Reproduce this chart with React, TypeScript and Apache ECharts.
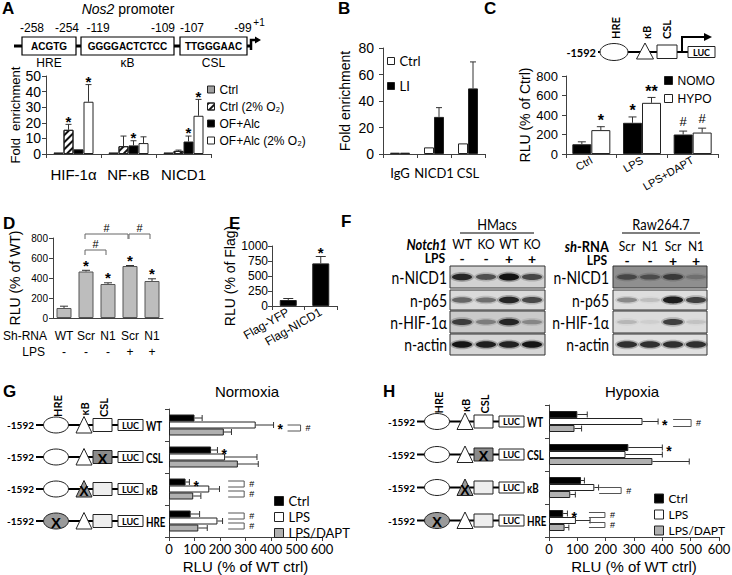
import React, { useEffect, useRef } from 'react';
import * as echarts from 'echarts';

const ARIAL = '"Liberation Sans", Arial, Helvetica, sans-serif';
const CAL = 'Lato, "Noto Sans", sans-serif';
const AX = '#404040';

// ---------- Panel A ----------
const aCategories = ['HIF-1α', 'NF-κB', 'NICD1'];
const aNames = ['Ctrl', 'Ctrl (2% O₂)', 'OF+Alc', 'OF+Alc (2% O₂)'];
const aCtrl = [1, 1, 1];
const aCtrlO2 = [15.5, 5, 2];
const aOFAlc = [3, 5.5, 8];
const aOFAlcO2 = [33.5, 7, 24.5];
const aCtrlErr = [0, 0, 0];
const aCtrlO2Err = [3.5, 6.5, 0.5];
const aOFAlcErr = [0, 3, 3.5];
const aOFAlcO2Err = [11, 4, 10.5];
const aCtrlStars = ['', '', ''];
const aCtrlO2Stars = ['*', '', ''];
const aOFAlcStars = ['', '*', '*'];
const aOFAlcO2Stars = ['*', '', '*'];
const aPromoterPos = ['-258', '-254', '-119', '-109', '-107', '-99'];
const aPromoterSeq = ['ACGTG', 'GGGGACTCTCC', 'TTGGGAAC'];
const aPromoterSites = ['HRE', 'κB', 'CSL'];

// ---------- Panel B ----------
const bCategories = ['IgG', 'NICD1', 'CSL'];
const bNames = ['Ctrl', 'LI'];
const bCtrl = [1, 5, 8];
const bLI = [1, 28, 49.5];
const bCtrlErr = [0, 0, 0];
const bLIErr = [0, 7, 20];

// ---------- Panel C ----------
const cCategories = ['Ctrl', 'LPS', 'LPS+DAPT'];
const cNames = ['NOMO', 'HYPO'];
const cNomo = [100, 320, 200];
const cHypo = [245, 525, 220];
const cNomoErr = [25, 60, 35];
const cHypoErr = [35, 55, 45];
const cNomoMarks = ['', '*', '#'];
const cHypoMarks = ['*', '**', '#'];

// ---------- Panel D ----------
const dShRna = ['WT', 'Scr', 'N1', 'Scr', 'N1'];
const dLps = ['-', '-', '-', '+', '+'];
const dValues = [100, 465, 340, 520, 370];
const dErr = [18, 12, 12, 5, 22];
const dStars = ['', '*', '*', '*', '*'];
// [from category, to category, level]
const dBrackets = [
  [1, 2, 680],
  [1, 3, 840],
  [3, 4, 840],
];

// ---------- Panel E ----------
const eCategories = ['Flag-YFP', 'Flag-NICD1'];
const eValues = [100, 710];
const eErr = [25, 115];
const eStars = ['', '*'];

// ---------- Panel F ----------
const fHMacsGenotype = ['WT', 'KO', 'WT', 'KO'];
const fLps = ['-', '-', '+', '+'];
const fRawShRna = ['Scr', 'N1', 'Scr', 'N1'];
const fBlotRows = ['n-NICD1', 'n-p65', 'n-HIF-1α', 'n-actin'];
const fHMacsBands = [
  [0.85, 0.6, 0.97, 0.65],
  [0.5, 0.45, 0.85, 0.65],
  [0.7, 0.35, 0.85, 0.3],
  [0.95, 0.9, 0.88, 0.95],
];
const fRawBands = [
  [0.5, 0.45, 0.6, 0.2],
  [0.35, 0.12, 0.9, 0.7],
  [0.15, 0.05, 0.7, 0.1],
  [0.8, 0.8, 0.8, 0.8],
];
const fHMacsBg = ['#d2d2d2', '#dadada', '#cacaca', '#d6d6d6'];
const fRawBg = ['#8f8f8f', '#dedede', '#dcdcdc', '#e0e0e0'];

// ---------- Panels G / H ----------
const ghConstructs = ['WT', 'CSL', 'κB', 'HRE'];
const ghNames = ['Ctrl', 'LPS', 'LPS/DAPT'];
const gCtrl = [100, 165, 65, 85];
const gLps = [340, 220, 158, 190];
const gDapt = [215, 270, 95, 115];
const gCtrlErr = [30, 25, 15, 35];
const gLpsErr = [70, 125, 40, 20];
const gDaptErr = [30, 80, 30, 35];
const gCtrlStars = ['', '*', '*', ''];
const gLpsStars = ['*', '', '', ''];
const gDaptStars = ['', '', '', ''];
// [x value, construct index, offset from, offset to, width]
const gBrackets = [
  [465, 0, 0, 6, 13],
  [232, 2, -8, -2, 16],
  [232, 2, 2, 8, 16],
  [232, 3, -8, -2, 16],
  [232, 3, 2, 8, 16],
];
const hCtrl = [100, 280, 113, 50];
const hLps = [330, 270, 160, 95];
const hDapt = [90, 365, 75, 55];
const hCtrlErr = [35, 120, 12, 15];
const hLpsErr = [55, 130, 15, 50];
const hDaptErr = [25, 130, 18, 15];
const hCtrlStars = ['', '*', '', '*'];
const hLpsStars = ['*', '', '', ''];
const hDaptStars = ['', '', '', ''];
const hBrackets = [
  [438, 0, -2, 5, 18],
  [177, 2, 0, 6, 22],
  [141, 3, -8, -3, 16],
  [141, 3, 2, 7, 16],
];

function errSeries(axisIdx: number, vals: number[], errs: number[], marks: string[], offset: number, horizontal: boolean, opts: any = {}) {
  const cap = opts.cap ?? 3;
  const fs = opts.fontSize ?? 15;
  const gap = opts.gap ?? 7;
  const color = opts.color ?? '#333';
  return {
    type: 'custom',
    xAxisIndex: axisIdx,
    yAxisIndex: axisIdx,
    z: 5,
    silent: true,
    encode: { x: 0, y: 1 },
    data: vals.map((v, i) => (horizontal ? [v, i, errs[i], i] : [i, v, errs[i], i])),
    renderItem: (params: any, api: any) => {
      const err = api.value(2);
      const idx = api.value(3);
      const children: any[] = [];
      const mark = marks[idx];
      if (!horizontal) {
        const c = api.value(0);
        const v = api.value(1);
        const p0 = api.coord([c, v]);
        const p1 = api.coord([c, v + err]);
        const x = p0[0] + offset;
        if (err > 0) {
          children.push({ type: 'line', shape: { x1: x, y1: p0[1], x2: x, y2: p1[1] }, style: { stroke: color, lineWidth: 1 } });
          children.push({ type: 'line', shape: { x1: x - cap, y1: p1[1], x2: x + cap, y2: p1[1] }, style: { stroke: color, lineWidth: 1 } });
        }
        if (mark) {
          const isStar = mark.indexOf('*') >= 0;
          const y = p1[1] - gap + (isStar ? 0.25 * fs : 0);
          children.push({ type: 'text', x, y, style: { text: mark, font: `${isStar ? 'bold ' : ''}${isStar ? fs : fs - 3}px ${ARIAL}`, fill: '#000', textAlign: 'center', textVerticalAlign: 'middle' } });
        }
      } else {
        const c = api.value(1);
        const v = api.value(0);
        const p0 = api.coord([v, c]);
        const p1 = api.coord([v + err, c]);
        const y = p0[1] + offset;
        if (err > 0) {
          children.push({ type: 'line', shape: { x1: p0[0], y1: y, x2: p1[0], y2: y }, style: { stroke: color, lineWidth: 1 } });
          children.push({ type: 'line', shape: { x1: p1[0], y1: y - cap, x2: p1[0], y2: y + cap }, style: { stroke: color, lineWidth: 1 } });
        }
        if (mark) {
          children.push({ type: 'text', x: p1[0] + 4, y: y + 0.25 * fs, style: { text: mark, font: `bold ${fs}px ${ARIAL}`, fill: '#000', textAlign: 'left', textVerticalAlign: 'middle' } });
        }
      }
      return { type: 'group', children };
    },
  };
}

function hBracketSeries(axisIdx: number, items: number[][]) {
  return {
    type: 'custom',
    xAxisIndex: axisIdx,
    yAxisIndex: axisIdx,
    z: 5,
    silent: true,
    encode: { x: 0, y: 1 },
    data: items,
    renderItem: (params: any, api: any) => {
      const p = api.coord([api.value(0), api.value(1)]);
      const y1 = p[1] + api.value(2);
      const y2 = p[1] + api.value(3);
      const w = api.value(4);
      const x = p[0];
      return {
        type: 'group',
        children: [
          { type: 'polyline', shape: { points: [[x, y1], [x + w, y1], [x + w, y2], [x, y2]] }, style: { stroke: '#555', fill: null, lineWidth: 1 } },
          { type: 'text', x: x + w + 5, y: (y1 + y2) / 2, style: { text: '#', font: `9px ${ARIAL}`, lineHeight: 7, fill: '#000', textAlign: 'left', textVerticalAlign: 'middle' } },
        ],
      };
    },
  };
}

function vBracketSeries(axisIdx: number, items: number[][]) {
  return {
    type: 'custom',
    xAxisIndex: axisIdx,
    yAxisIndex: axisIdx,
    z: 5,
    silent: true,
    encode: { x: 0, y: 2 },
    data: items,
    renderItem: (params: any, api: any) => {
      const a = api.coord([api.value(0), api.value(2)]);
      const b = api.coord([api.value(1), api.value(2)]);
      const y = a[1];
      const xa = a[0] - 1;
      const xb = b[0] - 2;
      return {
        type: 'group',
        children: [
          { type: 'polyline', shape: { points: [[xa, y + 5], [xa, y], [xb, y], [xb, y + 5]] }, style: { stroke: '#666', fill: null, lineWidth: 1 } },
          { type: 'text', x: (xa + xb) / 2, y: y - 6, style: { text: '#', font: `11px ${ARIAL}`, fill: '#000', textAlign: 'center', textVerticalAlign: 'middle' } },
        ],
      };
    },
  };
}

const txt = (x: number, y: number, text: string, font: string, align = 'left', v = 'middle', rotation = 0, rich?: any, scaleX = 1) => ({
  type: 'text',
  x,
  y,
  rotation,
  scaleX,
  silent: true,
  style: { text, font, fill: '#000', textAlign: align, textVerticalAlign: v, rich },
});
const ln = (x1: number, y1: number, x2: number, y2: number, w = 1, c = '#000') => ({ type: 'line', silent: true, shape: { x1, y1, x2, y2 }, style: { stroke: c, lineWidth: w } });
const rc = (x: number, y: number, w: number, h: number, fill: string, stroke = '#000', lw = 1) => ({ type: 'rect', silent: true, shape: { x, y, width: w, height: h }, style: { fill, stroke, lineWidth: lw } });

function construct(els: any[], dx: number, y: number, label: string) {
  const mut = label === 'WT' ? null : label;
  els.push(txt(34 + dx, y, '-1592', `bold 10px ${CAL}`, 'right'));
  els.push(ln(36 + dx, y, 118 + dx, y, 2));
  els.push({ type: 'ellipse', silent: true, shape: { cx: 56 + dx, cy: y, rx: 12.5, ry: 8 }, style: { fill: mut === 'HRE' ? '#9a9a9a' : '#fff', stroke: '#222', lineWidth: 1 } });
  if (mut === 'HRE') els.push(txt(56 + dx, y + 1, 'X', `bold 15px ${ARIAL}`, 'center'));
  els.push({ type: 'polygon', silent: true, shape: { points: [[84 + dx, y - 8.5], [76 + dx, y + 8], [92 + dx, y + 8]] }, style: { fill: mut === 'κB' ? '#9a9a9a' : '#fff', stroke: '#222', lineWidth: 1 } });
  if (mut === 'κB') els.push(txt(84 + dx, y + 2, 'X', `bold 14px ${ARIAL}`, 'center'));
  els.push(rc(93 + dx, y - 6.5, 19, 13, mut === 'CSL' ? '#8a8a8a' : mut ? '#eeeeee' : '#fff', '#222'));
  if (mut === 'CSL') els.push(txt(102.5 + dx, y + 1, 'X', `bold 15px ${ARIAL}`, 'center'));
  els.push(rc(118 + dx, y - 5.5, 25, 11, '#fff', '#222'));
  els.push(txt(130.5 + dx, y, 'LUC', `bold 9px ${CAL}`, 'center'));
  els.push(txt(146 + dx, y + 0.5, label, `bold 14px ${CAL}`, 'left', 'middle', 0, undefined, 0.7));
}

function buildOption() {
  const g: any[] = [];

  // panel letters
  const letters: [string, number, number][] = [
    ['A', 2, 0], ['B', 338, 0], ['C', 484, 0], ['D', 3, 215], ['E', 229, 215], ['F', 341, 213], ['G', 3, 383], ['H', 383, 383],
  ];
  letters.forEach(([l, x, y]) => g.push(txt(x, y, l, `bold 17px ${ARIAL}`, 'left', 'top')));

  // ---- A promoter diagram ----
  g.push(txt(128, 9, '{i|Nos2} promoter', `14px ${ARIAL}`, 'center', 'middle', 0, { i: { fontStyle: 'italic', fontSize: 14, fontFamily: ARIAL } }));
  g.push(ln(14, 46, 250, 46, 3));
  const boxes = [[22, 54], [81, 93], [180, 67]];
  boxes.forEach(([x, w], i) => {
    g.push(rc(x, 37, w, 18, '#fff', '#000', 1.2));
    g.push(txt(x + w / 2, 46.5, aPromoterSeq[i], `bold 10px ${ARIAL}`, 'center'));
    g.push(txt(x + w / 2, 63, aPromoterSites[i], `12px ${ARIAL}`, 'center'));
  });
  const posX = [32, 67, 98, 163, 192, 243];
  aPromoterPos.forEach((p, i) => g.push(txt(posX[i], 28, p, `12px ${ARIAL}`, 'center')));
  g.push(txt(259, 22, '+1', `10px ${ARIAL}`, 'center'));
  g.push({ type: 'polyline', silent: true, shape: { points: [[251, 50], [251, 40], [256, 40]] }, style: { stroke: '#000', lineWidth: 2.5, fill: null } });
  g.push({ type: 'polygon', silent: true, shape: { points: [[255, 36.5], [261, 40], [255, 43.5]] }, style: { fill: '#000' } });

  // ---- C diagram ----
  g.push(txt(596, 52, '-1592', `bold 11px ${CAL}`, 'right'));
  g.push(ln(598, 52, 688, 52, 2));
  g.push({ type: 'ellipse', silent: true, shape: { cx: 614, cy: 52, rx: 14, ry: 8.5 }, style: { fill: '#fff', stroke: '#222', lineWidth: 1 } });
  g.push({ type: 'polygon', silent: true, shape: { points: [[645, 43], [636.5, 59], [653.5, 59]] }, style: { fill: '#fff', stroke: '#222', lineWidth: 1 } });
  g.push(rc(657, 45, 20, 13.5, '#fff', '#222'));
  g.push({ type: 'polyline', silent: true, shape: { points: [[682, 52], [682, 37], [705, 37]] }, style: { stroke: '#000', lineWidth: 2, fill: null } });
  g.push({ type: 'polygon', silent: true, shape: { points: [[704, 33], [712, 37], [704, 41]] }, style: { fill: '#000' } });
  g.push(rc(688, 46.5, 27, 11, '#fff', '#222'));
  g.push(txt(701.5, 52, 'LUC', `bold 9px ${CAL}`, 'center'));
  g.push(txt(615, 39, 'HRE', `bold 11px ${CAL}`, 'left', 'middle', Math.PI / 2));
  g.push(txt(646, 39, 'κB', `bold 11px ${CAL}`, 'left', 'middle', Math.PI / 2));
  g.push(txt(666, 39, 'CSL', `bold 11px ${CAL}`, 'left', 'middle', Math.PI / 2));

  // ---- D row labels ----
  g.push(txt(3, 336, 'Sh-RNA', `12px ${ARIAL}`, 'left'));
  g.push(txt(45, 352, 'LPS', `12px ${ARIAL}`, 'right'));

  // ---- F western blots ----
  const blotRowsY = [[266, 288], [290, 310], [311, 333], [334, 355]];
  const panels = [
    { x0: 450, x1: 545, lanes: [462, 486, 509, 532], bands: fHMacsBands, bg: fHMacsBg, labelX: 447, title: 'HMacs', tx: 497, ul: [460, 534], headY: 244, lpsY: 258 },
    { x0: 613, x1: 707, lanes: [627, 650, 673, 696], bands: fRawBands, bg: fRawBg, labelX: 609, title: 'Raw264.7', tx: 661, ul: [622, 700], headY: 246, lpsY: 260 },
  ];
  const SX = 0.86;
  panels.forEach((p, pi) => {
    g.push(txt(p.tx, 224, p.title, `15px ${CAL}`, 'center', 'middle', 0, undefined, SX));
    g.push(ln(p.ul[0], 233, p.ul[1], 233, 1.2));
    if (pi === 0) {
      g.push(txt(p.labelX, p.headY, 'Notch1', `italic bold 15px ${CAL}`, 'right', 'middle', 0, undefined, SX));
      fHMacsGenotype.forEach((t, i) => g.push(txt(p.lanes[i], p.headY, t, `14px ${CAL}`, 'center', 'middle', 0, undefined, SX)));
    } else {
      g.push(txt(p.labelX, p.headY, '{i|sh}-RNA', `bold 15px ${CAL}`, 'right', 'middle', 0, { i: { fontStyle: 'italic', fontWeight: 'bold', fontSize: 15, fontFamily: CAL } }, SX));
      fRawShRna.forEach((t, i) => g.push(txt(p.lanes[i], p.headY, t, `14px ${CAL}`, 'center', 'middle', 0, undefined, SX)));
    }
    g.push(txt(p.labelX - 2, p.lpsY, 'LPS', `bold 14px ${CAL}`, 'right', 'middle', 0, undefined, SX));
    fLps.forEach((t, i) => g.push(txt(p.lanes[i], p.lpsY, t, `bold 14px ${CAL}`, 'center')));
    blotRowsY.forEach(([ya, yb], r) => {
      const cy = (ya + yb) / 2;
      g.push(txt(p.labelX, cy, fBlotRows[r], `17px ${CAL}`, 'right', 'middle', 0, undefined, 0.82));
      g.push(rc(p.x0, ya, p.x1 - p.x0, yb - ya, p.bg[r], '#333', 1));
      p.bands[r].forEach((a, i) => {
        const ry = r === 3 ? 3.2 : 1.8 + a * 1.8;
        g.push({ type: 'ellipse', silent: true, shape: { cx: p.lanes[i], cy: cy, rx: 12, ry: ry + 1.6 }, style: { fill: `rgba(20,20,20,${(a * 0.3).toFixed(2)})` } });
        g.push({ type: 'ellipse', silent: true, shape: { cx: p.lanes[i], cy: cy, rx: 10, ry }, style: { fill: `rgba(15,15,15,${a.toFixed(2)})` } });
      });
    });
  });

  // ---- G / H diagrams ----
  const gRows = [425, 457, 489, 521];
  const hRows = [421.5, 454.5, 487.5, 520.5];
  [[0, gRows], [381, hRows]].forEach(([dx, rows]: any) => {
    g.push(txt(57 + dx, rows[0] - 8, 'HRE', `bold 11px ${CAL}`, 'left', 'middle', Math.PI / 2));
    g.push(txt(84 + dx, rows[0] - 9.5, 'κB', `bold 11px ${CAL}`, 'left', 'middle', Math.PI / 2));
    g.push(txt(103 + dx, rows[0] - 8, 'CSL', `bold 11px ${CAL}`, 'left', 'middle', Math.PI / 2));
    ghConstructs.forEach((c, i) => construct(g, dx, rows[i], c));
  });
  g.push(txt(247, 391, 'Normoxia', `15px ${ARIAL}`, 'center'));
  g.push(txt(632, 391, 'Hypoxia', `15px ${ARIAL}`, 'center'));

  const grids = [
    { left: 46, top: 76, width: 165, height: 78 },
    { left: 383, top: 48, width: 102, height: 106 },
    { left: 566, top: 76, width: 152, height: 78 },
    { left: 53, top: 238, width: 110, height: 80 },
    { left: 272, top: 246, width: 65, height: 60 },
    { left: 169, top: 409, width: 153, height: 128 },
    { left: 549, top: 405, width: 170, height: 132 },
  ].map((gr) => ({ ...gr, containLabel: false, outerBoundsMode: 'none' }));

  const axLine = { show: true, lineStyle: { color: AX, width: 1 } };
  const axTick = { show: true, length: 4, lineStyle: { color: AX, width: 1 } };
  const catX = (gi: number, data: string[], label: any, extra: any = {}) => ({
    type: 'category', gridIndex: gi, data, axisLine: axLine, axisTick: axTick, splitLine: { show: false },
    axisLabel: { color: '#000', interval: 0, ...label }, ...extra,
  });
  const valY = (gi: number, max: number, step: number, fs: number, name: string, nameGap: number, margin: number) => ({
    type: 'value', gridIndex: gi, min: 0, max, interval: step, axisLine: axLine, axisTick: axTick, splitLine: { show: false },
    axisLabel: { color: '#000', fontFamily: ARIAL, fontSize: fs, margin, formatter: (v: number) => String(v) },
    name, nameLocation: 'middle', nameGap, nameTextStyle: { color: '#000', fontFamily: ARIAL, fontSize: 14 },
  });

  const xAxis = [
    catX(0, aCategories, { fontFamily: ARIAL, fontSize: 15, margin: 13 }),
    catX(1, bCategories, { fontFamily: CAL, fontSize: 13, margin: 12 }),
    catX(2, cCategories, { fontFamily: ARIAL, fontSize: 11, rotate: 30, margin: 5 }),
    catX(3, dShRna, { fontFamily: ARIAL, fontSize: 12, lineHeight: 16, margin: 10, formatter: (v: string, i: number) => `${v}\n${dLps[i]}` }, { axisTick: { show: false } }),
    catX(4, eCategories, { fontFamily: ARIAL, fontSize: 12, rotate: 30, margin: 5 }),
    ...[5, 6].map((gi) => ({
      type: 'value', gridIndex: gi, min: 0, max: 600, interval: 100, axisLine: axLine, axisTick: axTick, splitLine: { show: false },
      axisLabel: { color: '#000', fontFamily: CAL, fontSize: 13, margin: 5 },
      name: 'RLU (% of WT ctrl)', nameLocation: 'middle', nameGap: 22, nameTextStyle: { color: '#000', fontFamily: ARIAL, fontSize: 15 },
    })),
  ];
  const yAxis = [
    { ...valY(0, 50, 10, 14, 'Fold  enrichment', 19, 5), nameTextStyle: { color: '#000', fontFamily: ARIAL, fontSize: 13 } },
    valY(1, 80, 20, 14, 'Fold enrichment', 31, 9),
    valY(2, 800, 200, 13, 'RLU (% of Ctrl)', 29, 8),
    { ...valY(3, 800, 200, 10, 'RLU (% of WT)', 31, 5), nameTextStyle: { color: '#000', fontFamily: ARIAL, fontSize: 14 } },
    valY(4, 1000, 250, 12, 'RLU (% of Flag)', 28, 4),
    ...[5, 6].map((gi) => ({
      type: 'category', gridIndex: gi, data: ghConstructs, inverse: true, axisLine: axLine, axisTick: axTick, axisLabel: { show: false }, splitLine: { show: false },
    })),
  ];

  const border = { borderColor: '#222', borderWidth: 1 };
  const bar = (name: string, gi: number, data: number[], color: string, width: number, extraStyle: any = {}) => ({
    type: 'bar', name, xAxisIndex: gi, yAxisIndex: gi, data, barWidth: width, barGap: '0%', z: 2, silent: true,
    itemStyle: { color, ...border, ...extraStyle },
  });
  const hatch = {
    decal: { symbol: 'rect', symbolSize: 1, color: '#111', backgroundColor: '#fff', dashArrayX: [1, 0], dashArrayY: [1.4, 2.2], rotation: -Math.PI / 4 },
  };

  const series: any[] = [
    bar('A:' + aNames[0], 0, aCtrl, '#a0a0a0', 10),
    bar('A:' + aNames[1], 0, aCtrlO2, '#ffffff', 10, hatch),
    bar('A:' + aNames[2], 0, aOFAlc, '#000000', 10),
    bar('A:' + aNames[3], 0, aOFAlcO2, '#ffffff', 10),
    errSeries(0, aCtrl, aCtrlErr, aCtrlStars, -15, false),
    errSeries(0, aCtrlO2, aCtrlO2Err, aCtrlO2Stars, -5, false),
    errSeries(0, aOFAlc, aOFAlcErr, aOFAlcStars, 5, false),
    errSeries(0, aOFAlcO2, aOFAlcO2Err, aOFAlcO2Stars, 15, false),

    bar('B:' + bNames[0], 1, bCtrl, '#ffffff', 10),
    bar('B:' + bNames[1], 1, bLI, '#000000', 10),
    errSeries(1, bCtrl, bCtrlErr, ['', '', ''], -5, false),
    errSeries(1, bLI, bLIErr, ['', '', ''], 5, false),

    bar('C:' + cNames[0], 2, cNomo, '#000000', 19),
    bar('C:' + cNames[1], 2, cHypo, '#ffffff', 19),
    errSeries(2, cNomo, cNomoErr, cNomoMarks, -9.5, false, { gap: 10, fontSize: 16, cap: 4 }),
    errSeries(2, cHypo, cHypoErr, cHypoMarks, 9.5, false, { gap: 10, fontSize: 16, cap: 4 }),

    bar('D:RLU', 3, dValues, '#bdbdbd', 15, { borderColor: '#555' }),
    errSeries(3, dValues, dErr, dStars, 0, false, { gap: 9, fontSize: 15, cap: 4 }),
    vBracketSeries(3, dBrackets),

    bar('E:RLU', 4, eValues, '#000000', 17),
    errSeries(4, eValues, eErr, eStars, 0, false, { gap: 8, fontSize: 15, cap: 5 }),

    bar('G:' + ghNames[0], 5, gCtrl, '#000000', 7),
    bar('G:' + ghNames[1], 5, gLps, '#ffffff', 7),
    bar('G:' + ghNames[2], 5, gDapt, '#b0b0b0', 7),
    errSeries(5, gCtrl, gCtrlErr, gCtrlStars, -7, true, { fontSize: 14 }),
    errSeries(5, gLps, gLpsErr, gLpsStars, 0, true, { fontSize: 14 }),
    errSeries(5, gDapt, gDaptErr, gDaptStars, 7, true, { fontSize: 14 }),
    hBracketSeries(5, gBrackets),

    bar('H:' + ghNames[0], 6, hCtrl, '#000000', 7),
    bar('H:' + ghNames[1], 6, hLps, '#ffffff', 7),
    bar('H:' + ghNames[2], 6, hDapt, '#b0b0b0', 7),
    errSeries(6, hCtrl, hCtrlErr, hCtrlStars, -7, true, { fontSize: 14 }),
    errSeries(6, hLps, hLpsErr, hLpsStars, 0, true, { fontSize: 14 }),
    errSeries(6, hDapt, hDaptErr, hDaptStars, 7, true, { fontSize: 14 }),
    hBracketSeries(6, hBrackets),
  ];

  const legend = (prefix: string, names: string[], left: number, top: number, fs: number, size: number, gap: number, font = ARIAL) => ({
    left, top, orient: 'vertical', icon: 'rect', itemWidth: size, itemHeight: size, itemGap: gap, padding: 0,
    selectedMode: false,
    data: names.map((n) => prefix + n),
    formatter: (n: string) => n.slice(2),
    itemStyle: { borderColor: '#222', borderWidth: 1 },
    textStyle: { color: '#000', fontFamily: font, fontSize: fs, lineHeight: fs + 1 },
  });

  return {
    animation: false,
    backgroundColor: '#fff',
    grid: grids,
    xAxis,
    yAxis,
    legend: [
      legend('A:', aNames, 207, 83, 12, 7, 4),
      legend('B:', bNames, 387, 54, 13, 7, 11, CAL),
      legend('C:', cNames, 664, 74, 12, 8, 5),
      legend('G:', ghNames, 274, 494, 13, 9, 2, CAL),
      legend('H:', ghNames, 654, 492, 12, 9, 3, CAL),
    ],
    series,
    graphic: { elements: g },
  };
}

export default function App() {
  const ref = useRef<HTMLDivElement>(null);
  useEffect(() => {
    const chart = echarts.init(ref.current as HTMLDivElement, undefined, { renderer: 'svg' });
    chart.setOption(buildOption() as any);
    return () => chart.dispose();
  }, []);
  return <div ref={ref} style={{ position: 'fixed', left: 0, top: 0, width: 732, height: 575, background: '#fff' }} />;
}
